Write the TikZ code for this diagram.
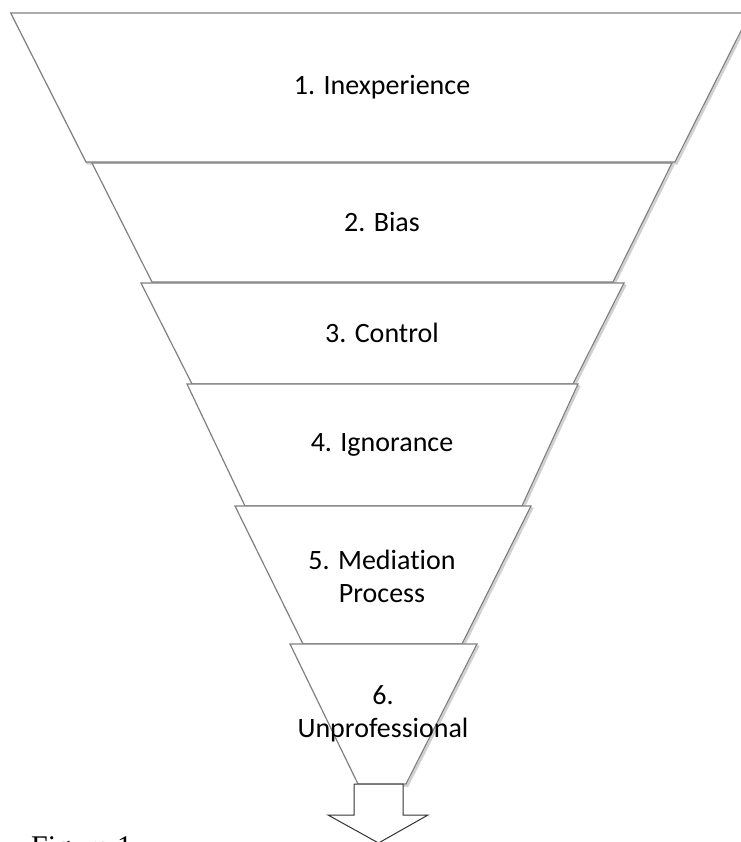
\documentclass[tikz,border=0pt]{standalone}
\usepackage{fontspec}
\setmainfont{Carlito}[Ligatures={NoCommon}]
\newfontfamily\capfont{Liberation Serif}
\usetikzlibrary{positioning}

\tikzset{
  level/.style={draw=black!50, line width=1.2pt, fill=white, line join=miter},
  levelshadow/.style={draw=black!18, line width=2.5pt},
  leveltext/.style={text=black, font=\fontsize{28}{33}\selectfont, align=center, anchor=center}
}

\begin{document}
\begin{tikzpicture}[x=1pt, y=-1pt]
\useasboundingbox (0,0) rectangle (740,842);

% shadows
\draw[levelshadow] (12.5,14.5) -- (87.5,163.5) -- (676.5,163.5) -- (751.5,14.5);
\draw[levelshadow] (153.5,283.5) -- (614.5,283.5) -- (673.5,164.5);
\draw[levelshadow] (193.5,385.5) -- (574.5,385.5) -- (625.5,284.5);
\draw[levelshadow] (246.5,507.5) -- (523.5,507.5) -- (579.5,385.5);
\draw[levelshadow] (304.5,645.5) -- (463.5,645.5) -- (532.5,507.5);
\draw[levelshadow] (359.5,785.5) -- (407.5,785.5) -- (478.5,645.5);

% funnel levels
\draw[level] (10.7,13) -- (750,13) -- (675,162) -- (86,162) -- cycle;
\draw[level] (92,163) -- (672,163) -- (613,282) -- (152,282) -- cycle;
\draw[level] (141,283) -- (624,283) -- (573,384) -- (192,384) -- cycle;
\draw[level] (187,384) -- (578,384) -- (522,506) -- (245,506) -- cycle;
\draw[level] (235,506) -- (531,506) -- (462,644) -- (303,644) -- cycle;
\draw[level] (290,644) -- (477,644) -- (406,784) -- (358,784) -- cycle;

% outlet arrow
\draw[draw=black!80, line width=1pt, fill=white]
  (354,784) -- (403,784) -- (403,815) -- (428,815) -- (378.5,843)
  -- (328,815) -- (354,815) -- cycle;

\node[leveltext] (inexp) at (382,87) {1. Inexperience};
\node[leveltext] (bias) at (382,222) {2. Bias};
\node[leveltext] (ctrl) at (382,333) {3. Control};
\node[leveltext] (ignor) at (382,445) {4. Ignorance};
\node[leveltext] (media) at (382,576) {5. Mediation\\Process};
\node[leveltext] (unprof) at (383,714) {6.\\Unprofessional};

\node[anchor=north west, inner sep=0pt, font=\capfont\fontsize{30}{36}\selectfont] (figcap) at (31,836) {Figure 1};
\end{tikzpicture}
\end{document}
